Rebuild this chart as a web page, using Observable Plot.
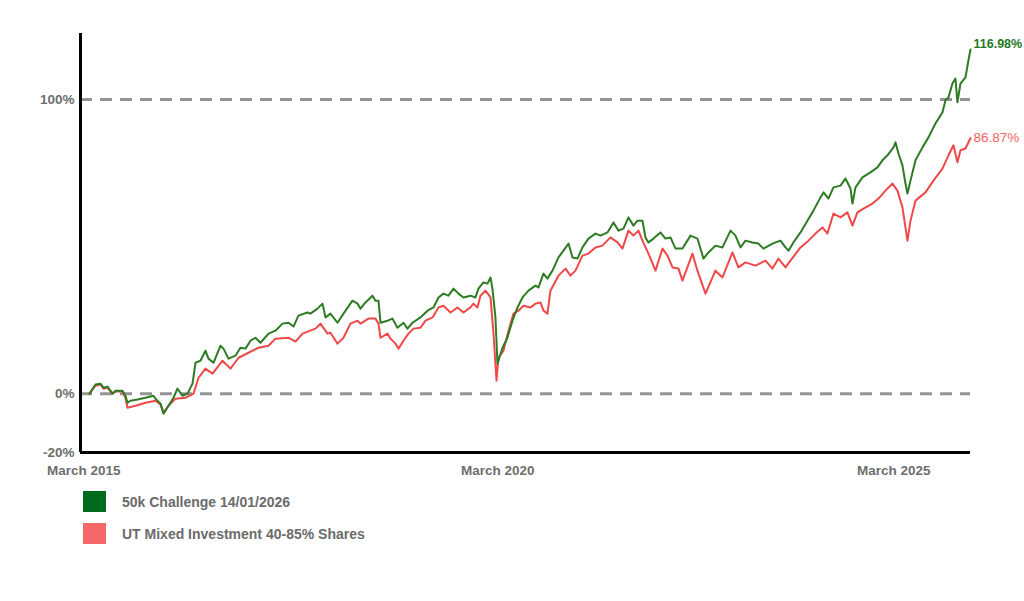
<!DOCTYPE html>
<html>
<head>
<meta charset="utf-8">
<script src="https://cdn.jsdelivr.net/npm/d3@7"></script>
<script src="https://cdn.jsdelivr.net/npm/@observablehq/plot@0.6"></script>
<style>
  html, body { margin: 0; padding: 0; background: #fff; }
  #wrap { position: relative; width: 1024px; height: 601px; background: #fff; font-family: "Liberation Sans", Arial, sans-serif; }
  #chart { position: absolute; left: 0; top: 0; }
  .leg { position: absolute; left: 83px; display: flex; align-items: center; font-size: 14px; font-weight: bold; color: #6b6b6b; }
  .sw { width: 23px; height: 21px; margin-right: 16px; }
</style>
</head>
<body>
<div id="wrap">
  <div id="chart"></div>
  <div id="legend"></div>
</div>
<script>
// Series 1: 50k Challenge 14/01/2026 (decimal years, cumulative % return)
const greenYears = [2015.160,2015.234,2015.296,2015.333,2015.382,2015.444,2015.481,2015.567,2015.604,2015.629,2015.666,2015.753,2015.851,2015.950,2015.975,2016.037,2016.074,2016.135,2016.197,2016.246,2016.308,2016.370,2016.432,2016.469,2016.530,2016.592,2016.629,2016.691,2016.777,2016.814,2016.876,2016.962,2017.024,2017.086,2017.148,2017.209,2017.271,2017.370,2017.456,2017.543,2017.617,2017.679,2017.740,2017.851,2017.888,2017.975,2018.037,2018.074,2018.135,2018.222,2018.296,2018.407,2018.469,2018.506,2018.567,2018.654,2018.691,2018.728,2018.753,2018.839,2018.901,2018.962,2019.037,2019.086,2019.148,2019.246,2019.333,2019.407,2019.469,2019.530,2019.592,2019.654,2019.716,2019.777,2019.864,2019.925,2019.962,2020.024,2020.074,2020.111,2020.135,2020.172,2020.197,2020.259,2020.320,2020.382,2020.444,2020.506,2020.580,2020.666,2020.703,2020.765,2020.814,2020.876,2020.950,2021.012,2021.074,2021.123,2021.185,2021.246,2021.320,2021.407,2021.469,2021.555,2021.629,2021.691,2021.753,2021.814,2021.876,2021.925,2021.987,2022.024,2022.061,2022.123,2022.209,2022.271,2022.333,2022.395,2022.481,2022.580,2022.666,2022.740,2022.802,2022.888,2022.975,2023.074,2023.135,2023.197,2023.259,2023.345,2023.419,2023.481,2023.592,2023.691,2023.753,2023.790,2023.851,2023.938,2024.024,2024.098,2024.185,2024.222,2024.283,2024.345,2024.432,2024.493,2024.555,2024.580,2024.617,2024.703,2024.802,2024.888,2024.950,2025.012,2025.086,2025.111,2025.148,2025.197,2025.234,2025.259,2025.296,2025.358,2025.444,2025.518,2025.604,2025.691,2025.728,2025.765,2025.814,2025.851,2025.876,2025.913,2025.975,2026.012,2026.037];
const greenValues = [0.0,3.1,3.4,2.0,2.4,0.0,1.0,1.0,-0.7,-3.1,-2.4,-2.0,-1.4,-0.7,-1.7,-3.4,-6.8,-4.1,-1.4,1.7,-0.7,0.0,3.4,10.5,11.2,14.6,11.9,10.5,16.3,15.3,11.9,12.9,15.6,15.3,18.0,19.0,17.3,20.4,21.4,23.8,24.1,22.8,26.5,27.6,27.2,28.9,30.6,25.9,27.2,24.1,27.2,31.6,30.6,28.9,31.0,33.3,31.6,31.6,24.1,24.8,25.5,22.4,24.1,22.1,24.1,25.9,28.2,29.3,32.7,34.0,33.3,35.7,34.0,32.7,33.3,32.7,35.7,37.8,37.4,39.5,35.7,25.9,10.2,15.6,19.0,24.8,29.3,32.7,35.0,36.7,36.1,40.8,39.1,41.8,46.3,48.6,51.0,46.3,45.9,49.7,52.7,54.4,53.7,54.8,58.2,55.4,56.1,59.9,57.1,58.8,58.8,53.1,51.4,52.7,54.8,52.7,53.1,49.3,49.3,53.7,52.7,45.9,48.0,50.3,49.7,55.4,53.7,49.7,52.0,51.4,51.0,49.3,51.0,52.0,49.7,48.6,51.4,54.8,58.8,62.2,66.7,68.4,66.3,70.1,70.7,73.1,69.7,64.6,70.1,73.5,75.2,76.9,79.3,81.0,83.7,85.4,81.6,77.6,71.4,68.0,72.4,79.3,83.7,87.1,91.8,95.6,99.7,100.7,105.4,107.1,99.0,105.4,107.5,113.3,116.98];

// Series 2: UT Mixed Investment 40-85% Shares
const redYears = [2015.160,2015.234,2015.296,2015.333,2015.382,2015.444,2015.481,2015.567,2015.604,2015.629,2015.728,2015.851,2015.975,2016.037,2016.074,2016.135,2016.222,2016.345,2016.444,2016.506,2016.592,2016.679,2016.802,2016.901,2017.000,2017.123,2017.246,2017.370,2017.456,2017.617,2017.703,2017.790,2017.950,2018.012,2018.098,2018.135,2018.222,2018.296,2018.382,2018.469,2018.506,2018.604,2018.691,2018.728,2018.753,2018.839,2018.876,2018.938,2018.975,2019.037,2019.098,2019.160,2019.246,2019.308,2019.395,2019.469,2019.530,2019.617,2019.703,2019.777,2019.864,2019.901,2019.950,2019.987,2020.049,2020.111,2020.148,2020.185,2020.209,2020.271,2020.333,2020.395,2020.456,2020.518,2020.604,2020.666,2020.728,2020.765,2020.814,2020.851,2020.950,2021.037,2021.098,2021.160,2021.246,2021.320,2021.407,2021.493,2021.592,2021.679,2021.740,2021.814,2021.876,2021.938,2021.987,2022.061,2022.148,2022.234,2022.296,2022.358,2022.432,2022.481,2022.604,2022.666,2022.765,2022.888,2022.975,2023.098,2023.172,2023.259,2023.382,2023.506,2023.592,2023.666,2023.753,2023.814,2023.938,2024.037,2024.123,2024.209,2024.271,2024.345,2024.432,2024.518,2024.580,2024.641,2024.716,2024.827,2024.901,2024.987,2025.074,2025.135,2025.197,2025.234,2025.259,2025.296,2025.358,2025.481,2025.580,2025.691,2025.765,2025.827,2025.876,2025.913,2025.975,2026.037];
const redValues = [0.0,2.7,3.1,1.7,2.0,0.0,0.7,0.7,-1.4,-4.8,-4.1,-3.1,-2.4,-3.7,-6.5,-4.1,-1.7,-1.4,0.0,5.4,8.5,6.8,11.2,8.5,12.2,13.9,15.6,16.3,18.7,19.0,17.7,20.4,22.1,23.8,20.4,20.7,17.0,19.0,23.8,24.8,23.8,25.5,25.5,23.8,19.0,20.4,18.7,17.0,15.3,18.0,20.4,22.1,22.4,24.8,25.9,29.3,29.9,27.6,29.3,27.6,29.3,30.6,29.3,33.3,35.0,32.7,20.4,4.4,12.2,14.6,21.4,27.2,28.2,29.9,29.3,30.6,31.0,28.2,27.2,35.0,40.1,42.5,40.1,41.8,46.9,47.6,49.7,50.3,53.1,51.4,49.3,55.4,53.7,55.4,52.0,47.6,41.8,49.3,46.9,42.9,42.5,38.4,47.6,41.8,34.0,41.8,39.5,48.0,42.9,44.6,43.5,45.2,42.5,45.9,42.9,45.2,49.7,52.0,54.4,56.5,54.4,61.2,59.9,61.6,57.1,61.6,62.9,64.6,66.3,69.0,71.4,69.0,63.3,56.5,52.0,58.8,65.6,68.4,72.4,76.5,81.0,84.4,78.6,82.7,83.3,86.87];

const seriesNames = ["50k Challenge 14/01/2026", "UT Mixed Investment 40-85% Shares"];
const seriesColors = ["#2d7b22", "#f04848"];
const legendColors = ["#006b1a", "#f56868"];
const endLabels = ["116.98%", "86.87%"];

const xTicks = [2015.09, 2020.2, 2025.09];
const xTickLabels = ["March 2015", "March 2020", "March 2025"];
const yTicks = [-20, 0, 100];
const yTickLabels = ["-20%", "0%", "100%"];
const guideLines = [0, 100];

const xDomain = [2015.049, 2026.037];
const yDomain = [-20, 122.4];

const green = greenYears.map((t, i) => ({t, v: greenValues[i]}));
const red = redYears.map((t, i) => ({t, v: redValues[i]}));
const ends = [
  {t: greenYears[greenYears.length - 1], v: greenValues[greenValues.length - 1], label: endLabels[0]},
  {t: redYears[redYears.length - 1], v: redValues[redValues.length - 1], label: endLabels[1]}
];

const chart = Plot.plot({
  width: 1024,
  height: 480,
  marginLeft: 80,
  marginRight: 54,
  marginTop: 33,
  marginBottom: 28,
  style: {fontFamily: "'Liberation Sans', Arial, sans-serif", background: "transparent", overflow: "visible"},
  x: {type: "linear", domain: xDomain},
  y: {domain: yDomain},
  marks: [
    Plot.ruleY(guideLines, {stroke: "#949494", strokeWidth: 3, strokeDasharray: "12,8"}),
    Plot.line(red, {x: "t", y: "v", stroke: seriesColors[1], strokeWidth: 2, curve: "linear"}),
    Plot.line(green, {x: "t", y: "v", stroke: seriesColors[0], strokeWidth: 2, curve: "linear"}),
    Plot.ruleX([xDomain[0]], {y1: yDomain[0], y2: yDomain[1], stroke: "#000", strokeWidth: 3}),
    Plot.ruleY([yDomain[0]], {stroke: "#000", strokeWidth: 3}),
    Plot.axisY({ticks: yTicks, tickFormat: d => yTickLabels[yTicks.indexOf(d)], tickSize: 0, tickPadding: 6, fontSize: 13.5, fontWeight: "bold", fill: "#6e6e6e", label: null}),
    Plot.axisX({ticks: xTicks, tickFormat: d => xTickLabels[xTicks.indexOf(d)], tickSize: 0, tickPadding: 13, fontSize: 13.5, fontWeight: "bold", fill: "#6e6e6e", label: null}),
    Plot.text([ends[0]], {x: "t", y: "v", text: "label", dx: 3, dy: -5, textAnchor: "start", fill: "#1f7a1f", fontWeight: "bold", fontSize: 12.5}),
    Plot.text([ends[1]], {x: "t", y: "v", text: "label", dx: 3, dy: 0, textAnchor: "start", fill: "#f26262", fontWeight: "normal", fontSize: 13.5})
  ]
});
document.getElementById("chart").appendChild(chart);

const legend = document.getElementById("legend");
const legendTops = [491, 523];
seriesNames.forEach((name, i) => {
  const row = document.createElement("div");
  row.className = "leg";
  row.style.top = legendTops[i] + "px";
  const sw = document.createElement("div");
  sw.className = "sw";
  sw.style.background = legendColors[i];
  const label = document.createElement("span");
  label.textContent = name;
  row.appendChild(sw);
  row.appendChild(label);
  legend.appendChild(row);
});
</script>
</body>
</html>
